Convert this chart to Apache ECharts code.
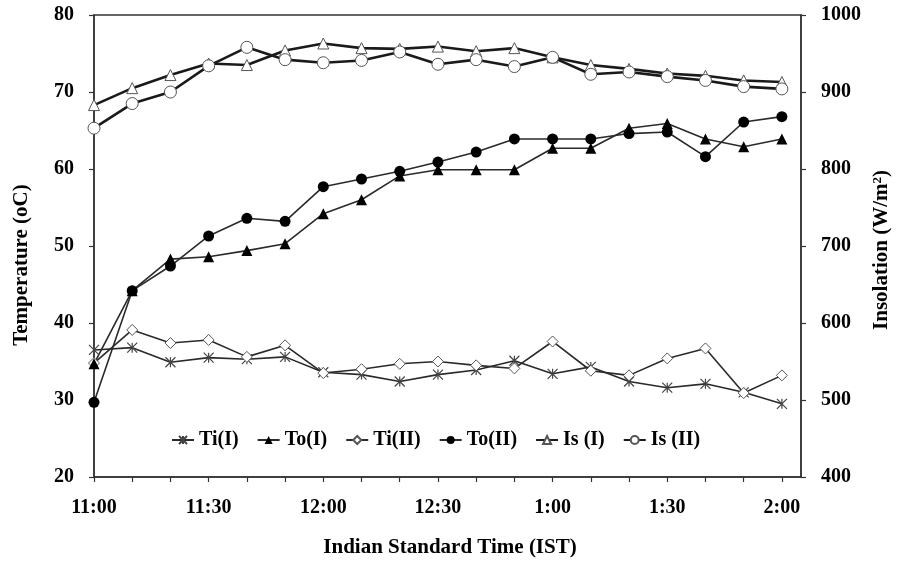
<!DOCTYPE html>
<html>
<head>
<meta charset="utf-8">
<script src="https://cdn.jsdelivr.net/npm/echarts@6/dist/echarts.min.js"></script>
<style>
  html, body { margin: 0; padding: 0; background: #fff; }
  #chart { width: 900px; height: 565px; }
</style>
</head>
<body>
<div id="chart"></div>
<script>
// Time of each reading, minutes after 11:00 (every 10 minutes)
const minutes = [0, 10, 20, 30, 40, 50, 60, 70, 80, 90, 100, 110, 120, 130, 140, 150, 160, 170, 180];
const timeTickLabels = ['11:00', '11:30', '12:00', '12:30', '1:00', '1:30', '2:00'];

// Temperatures (°C)
const tiI  = [36.5, 36.8, 34.9, 35.5, 35.3, 35.6, 33.6, 33.3, 32.4, 33.3, 33.9, 35.1, 33.4, 34.3, 32.4, 31.6, 32.1, 31.0, 29.5];
const toI  = [34.7, 44.2, 48.3, 48.6, 49.4, 50.3, 54.2, 56.0, 59.1, 59.9, 59.9, 59.9, 62.7, 62.7, 65.3, 65.9, 63.9, 62.9, 63.9];
const tiII = [34.8, 39.1, 37.4, 37.8, 35.6, 37.1, 33.5, 34.0, 34.7, 35.0, 34.5, 34.1, 37.6, 33.8, 33.2, 35.4, 36.7, 30.9, 33.2];
const toII = [29.7, 44.2, 47.4, 51.3, 53.6, 53.2, 57.7, 58.7, 59.7, 60.9, 62.2, 63.9, 63.9, 63.9, 64.6, 64.8, 61.6, 66.1, 66.8];

// Insolation (W/m²)
const isI  = [883, 905, 922, 937, 935, 954, 963, 957, 956, 959, 953, 957, 945, 935, 930, 924, 921, 915, 913];
const isII = [853, 885, 900, 934, 958, 942, 938, 941, 952, 936, 942, 933, 945, 923, 926, 920, 915, 907, 904];

const FONT = 'Liberation Serif';
const INK = '#2a2a2a';
const asterisk = 'path://M0,0 L10,10 M10,0 L0,10 M5,0 L5,10';

function pairs(vals) { return vals.map((v, i) => [minutes[i], v]); }

function lineSeries(name, vals, opts) {
  return Object.assign({
    name: name,
    type: 'line',
    data: pairs(vals),
    yAxisIndex: 0,
    showAllSymbol: true,
    animation: false,
    lineStyle: { color: INK, width: 1.6 },
    emphasis: { disabled: true }
  }, opts);
}

const tickFont = { fontFamily: FONT, fontWeight: 'bold', fontSize: 20, color: '#000' };

const chart = echarts.init(document.getElementById('chart'), null, { renderer: 'canvas' });

chart.setOption({
  backgroundColor: '#ffffff',
  animation: false,
  grid: {
    left: 94, right: 99, top: 15, bottom: 88,
    show: true, borderColor: '#333', borderWidth: 1.5, backgroundColor: 'transparent'
  },
  legend: {
    left: 166, top: 425,
    itemWidth: 22, itemHeight: 10, itemGap: 18,
    textStyle: { fontFamily: FONT, fontWeight: 'bold', fontSize: 20, color: '#000' },
    data: ['Ti(I)', 'To(I)', 'Ti(II)', 'To(II)', 'Is (I)', 'Is (II)']
  },
  xAxis: {
    type: 'value', min: 0, max: 185, interval: 10,
    axisLine: { show: true, lineStyle: { color: '#333', width: 1.5 } },
    axisTick: { show: true, inside: false, length: 5, lineStyle: { color: '#333', width: 1.2 } },
    splitLine: { show: false },
    axisLabel: Object.assign({
      margin: 21,
      showMaxLabel: false,
      formatter: function (v) {
        return (v % 30 === 0 && v <= 180) ? timeTickLabels[v / 30] : '';
      }
    }, tickFont)
  },
  yAxis: [
    {
      type: 'value', min: 20, max: 80, interval: 10, position: 'left',
      axisLine: { show: true, lineStyle: { color: '#333', width: 1.5 } },
      axisTick: { show: true, length: 5, lineStyle: { color: '#333', width: 1.2 } },
      splitLine: { show: false },
      axisLabel: Object.assign({ margin: 20 }, tickFont)
    },
    {
      type: 'value', min: 400, max: 1000, interval: 100, position: 'right',
      axisLine: { show: true, lineStyle: { color: '#333', width: 1.5 } },
      axisTick: { show: true, length: 5, lineStyle: { color: '#333', width: 1.2 } },
      splitLine: { show: false },
      axisLabel: Object.assign({ margin: 20, formatter: function (v) { return String(v); } }, tickFont)
    }
  ],
  graphic: [
    {
      type: 'text', x: 22, y: 265, rotation: Math.PI / 2,
      style: {
        text: 'Temperature (oC)', fontFamily: FONT, fontWeight: 'bold', fontSize: 21,
        fill: '#000', align: 'center', verticalAlign: 'middle'
      }
    },
    {
      type: 'text', x: 882, y: 250, rotation: Math.PI / 2,
      style: {
        text: 'Insolation (W/m{sup|2})', fontFamily: FONT, fontWeight: 'bold', fontSize: 21,
        fill: '#000', align: 'center', verticalAlign: 'middle',
        rich: { sup: { fontFamily: FONT, fontWeight: 'bold', fontSize: 13, verticalAlign: 'top', padding: [0, 0, 9, 0] } }
      }
    },
    {
      type: 'text', x: 450, y: 548,
      style: {
        text: 'Indian Standard Time (IST)', fontFamily: FONT, fontWeight: 'bold', fontSize: 21,
        fill: '#000', align: 'center', verticalAlign: 'middle'
      }
    }
  ],
  series: [
    lineSeries('Is (I)', isI, {
      yAxisIndex: 1, symbol: 'triangle', symbolSize: 11,
      lineStyle: { color: '#1a1a1a', width: 2.6 },
      itemStyle: { color: '#ffffff', borderColor: '#555', borderWidth: 1 }
    }),
    lineSeries('Is (II)', isII, {
      yAxisIndex: 1, symbol: 'circle', symbolSize: 12,
      lineStyle: { color: '#1a1a1a', width: 2.6 },
      itemStyle: { color: '#ffffff', borderColor: '#555', borderWidth: 1 }
    }),
    lineSeries('Ti(I)', tiI, {
      symbol: asterisk, symbolSize: 10,
      itemStyle: { color: 'none', borderColor: '#444', borderWidth: 1.2 }
    }),
    lineSeries('Ti(II)', tiII, {
      symbol: 'diamond', symbolSize: 11,
      itemStyle: { color: '#ffffff', borderColor: '#555', borderWidth: 1 }
    }),
    lineSeries('To(I)', toI, {
      symbol: 'triangle', symbolSize: 11,
      itemStyle: { color: '#000', borderColor: '#000', borderWidth: 0 }
    }),
    lineSeries('To(II)', toII, {
      symbol: 'circle', symbolSize: 11,
      itemStyle: { color: '#000', borderColor: '#000', borderWidth: 0 }
    })
  ]
});
</script>
</body>
</html>
